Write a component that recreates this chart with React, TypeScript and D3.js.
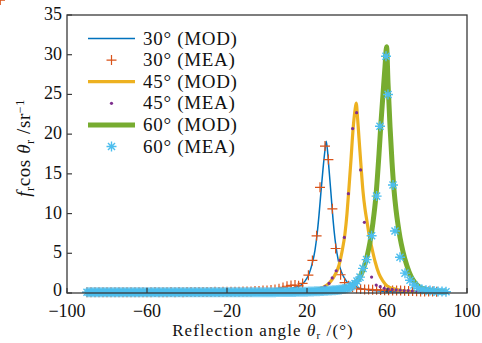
import { useEffect, useRef } from "react";
import * as d3 from "d3";

// model curves (MOD)
const mod30Angles = [-90, -60, -30, -10, 0, 5, 10, 14, 17, 19, 21, 22.5, 24, 25, 26, 27, 28, 29, 29.6, 30.3, 31, 32, 33, 34, 35, 36.5, 38, 40, 43, 47, 52, 60, 70, 80, 90];
const mod30Values = [0.02, 0.04, 0.08, 0.15, 0.22, 0.3, 0.45, 0.7, 1.0, 1.5, 2.4, 3.6, 5.4, 7.3, 9.8, 12.8, 15.6, 18, 19.1, 17.8, 15.6, 12.5, 9.3, 6.8, 5.0, 3.2, 2.2, 1.4, 0.9, 0.55, 0.33, 0.18, 0.1, 0.06, 0.04];

const mod45Angles = [-90, -60, -30, 0, 10, 20, 25, 28, 30, 32, 34, 36, 37.5, 39, 40, 41, 42, 43, 44, 44.6, 45.3, 46, 47, 48, 49, 50, 51, 52.5, 54, 56, 58, 60, 63, 66, 70, 80, 90];
const mod45Values = [0.02, 0.03, 0.05, 0.1, 0.16, 0.3, 0.5, 0.7, 1.0, 1.5, 2.3, 3.5, 5.2, 7.5, 10, 13.3, 16.8, 20.5, 23, 23.9, 22, 19.5, 16, 12.8, 10.6, 9, 7.4, 5.6, 4.0, 2.4, 1.5, 0.9, 0.55, 0.38, 0.25, 0.12, 0.07];

const mod60Angles = [-90, -60, -30, 0, 20, 30, 36, 40, 44, 46, 48, 50, 51.5, 53, 54.5, 56, 57, 58, 59, 59.8, 60.5, 61.5, 62.5, 63.5, 64.5, 65.5, 66.5, 68, 70, 72, 74, 76, 80, 85, 90];
const mod60Values = [0.02, 0.03, 0.05, 0.1, 0.2, 0.3, 0.45, 0.6, 1.2, 1.8, 2.9, 4.6, 6.4, 8.9, 12.3, 17.5, 21.5, 25, 28.5, 31, 26.5, 21, 16.5, 13, 10.5, 8.6, 7.0, 5.2, 3.4, 2.1, 1.3, 0.8, 0.4, 0.2, 0.12];

// measured points (MEA)
const mea30Angles = [
  -90, -88, -86, -84, -82, -80, -78, -76, -74, -72, -70, -68, -66, -64, -62, -60, -58, -56, -54, -52,
  -50, -48, -46, -44, -42, -40, -38, -36, -34, -32, -30, -28, -26, -24, -22, -20, -18, -16, -14, -12,
  -10, -8, -6, -4, -2, 0, 2, 4, 6, 8, 10, 12, 14, 15.8, 17.8, 20.7, 22.7, 24.8, 26.5, 29, 30.7, 32.7,
  34.3, 36.8, 38.8, 40.8, 42.8, 44.8, 46.8, 48.8, 50.8, 52.8, 54.8, 56.8, 58.8, 60.8, 62.8, 64.8, 66.8,
  68.8, 70.8, 72.8, 74.8, 76.8, 78.8, 80.8, 82.8, 84.8, 86.8, 88.8,
];
const mea30Values = [
  0.08, 0.1, 0.09, 0.1, 0.08, 0.1, 0.11, 0.09, 0.1, 0.1, 0.08, 0.1, 0.11, 0.1, 0.09, 0.1, 0.1, 0.12, 0.1, 0.11,
  0.1, 0.12, 0.11, 0.12, 0.1, 0.12, 0.13, 0.12, 0.12, 0.14, 0.13, 0.14, 0.15, 0.14, 0.15, 0.16, 0.15, 0.16, 0.17, 0.18,
  0.18, 0.2, 0.24, 0.26, 0.3, 0.32, 0.38, 0.45, 0.55, 0.7, 0.85, 0.95, 1.0, 0.9, 1.2, 2.25, 4.1, 7.2, 13.3, 18.5, 16.8, 10.6,
  5.6, 2.3, 1.3, 0.9, 0.75, 0.6, 0.5, 0.45, 0.45, 0.4, 0.4, 0.38, 0.35, 0.35, 0.33,
  0.3, 0.3, 0.28, 0.25, 0.25, 0.22, 0.2, 0.2, 0.18, 0.18, 0.15,
];

const mea45Angles = [
  -90, -88, -86, -84, -82, -80, -78, -76, -74, -72, -70, -68, -66, -64, -62, -60, -58, -56, -54, -52,
  -50, -48, -46, -44, -42, -40, -38, -36, -34, -32, -30, -28, -26, -24, -22, -20, -18, -16, -14, -12,
  -10, -8, -6, -4, -2, 0, 2, 4, 6, 8, 10, 12, 14, 16, 18, 20, 22, 24, 26, 27.2, 29, 31, 32.6, 34.6,
  36.5, 38.7, 40.7, 42.8, 44.8, 46.8, 48.7, 50.7, 52.3, 54.6, 56.6, 58.6, 60.6, 62.6, 64.6, 66.6, 68.6,
  70.6, 72.6, 74.6, 76.6, 78.6, 80.6, 82.6, 84.6, 86.6, 88.6,
];
const mea45Values = [
  0.04, 0.05, 0.04, 0.05, 0.05, 0.04, 0.05, 0.05, 0.05, 0.04, 0.05, 0.05, 0.05, 0.06, 0.05, 0.05, 0.05, 0.06, 0.05, 0.05,
  0.06, 0.05, 0.06, 0.06, 0.05, 0.06, 0.06, 0.06, 0.07, 0.06, 0.07, 0.07, 0.07, 0.08, 0.08, 0.08, 0.09, 0.09, 0.1, 0.1,
  0.1, 0.11, 0.12, 0.12, 0.13, 0.14, 0.15, 0.16, 0.17, 0.18, 0.2, 0.22, 0.24, 0.26, 0.3, 0.32, 0.38, 0.42, 0.5, 0.6, 0.8, 1.2, 1.9, 2.8,
  4.1, 7.0, 12.5, 20.7, 22.7, 15.5, 8.9, 5.0, 2.0, 1.0, 0.8, 0.6, 0.5, 0.45, 0.4, 0.35, 0.3,
  0.3, 0.25, 0.22, 0.2, 0.18, 0.15, 0.12, 0.1, 0.1, 0.08,
];

const mea60Angles = [
  -90, -89, -88, -87, -86, -85, -84, -83, -82, -81, -80, -79, -78, -77, -76, -75, -74, -73, -72, -71,
  -70, -69, -68, -67, -66, -65, -64, -63, -62, -61, -60, -59, -58, -57, -56, -55, -54, -53, -52, -51,
  -50, -49, -48, -47, -46, -45, -44, -43, -42, -41, -40, -39, -38, -37, -36, -35, -34, -33, -32, -31,
  -30, -29, -28, -27, -26, -25, -24, -23, -22, -21, -20, -19, -18, -17, -16, -15, -14, -13, -12, -11,
  -10, -9, -8, -7, -6, -5, -4, -3, -2, -1, 0, 1, 2, 3, 4, 5, 6, 7, 8, 9,
  10, 11, 12, 13, 14, 15, 16, 17, 18, 19, 20, 21, 22, 23, 24, 25, 26, 27, 28, 29,
  30, 31, 32, 33, 34, 35, 36, 37, 38, 39,
  40, 41, 42, 43, 44, 45, 46.5, 48, 49.8, 52.3, 54.8, 56.5, 59.5, 60.5, 63, 64, 66.5, 69, 71.5, 73.5,
  75.5, 77.5, 79.5, 81.5, 83.5, 85.5, 87.5, 89.5,
];
const mea60Values = [
  0.1, 0.09, 0.1, 0.1, 0.11, 0.1, 0.09, 0.1, 0.1, 0.1, 0.11, 0.1, 0.1, 0.09, 0.1, 0.1, 0.1, 0.11, 0.1, 0.1,
  0.1, 0.1, 0.09, 0.1, 0.1, 0.11, 0.1, 0.1, 0.1, 0.1, 0.1, 0.11, 0.1, 0.1, 0.1, 0.1, 0.1, 0.11, 0.1, 0.1,
  0.1, 0.09, 0.1, 0.1, 0.1, 0.1, 0.11, 0.1, 0.1, 0.1, 0.1, 0.1, 0.1, 0.11, 0.1, 0.1, 0.1, 0.1, 0.09, 0.1,
  0.1, 0.1, 0.11, 0.1, 0.1, 0.1, 0.1, 0.1, 0.1, 0.11, 0.1, 0.1, 0.1, 0.1, 0.1, 0.1, 0.11, 0.1, 0.1, 0.1,
  0.1, 0.1, 0.1, 0.1, 0.11, 0.1, 0.1, 0.1, 0.1, 0.1, 0.1, 0.1, 0.11, 0.11, 0.11, 0.12, 0.12, 0.12, 0.12, 0.13,
  0.13, 0.13, 0.14, 0.14, 0.14, 0.15, 0.15, 0.16, 0.16, 0.17, 0.17, 0.18, 0.19, 0.2, 0.21, 0.22, 0.23, 0.24, 0.25, 0.27,
  0.28, 0.3, 0.32, 0.34, 0.36, 0.39, 0.42, 0.45, 0.49, 0.54,
  0.6, 0.7, 0.8, 1.0, 1.2, 1.5, 2.0, 3.1, 4.2, 7.2, 12.2, 21, 29.8, 25, 13.6, 7.8, 4.5, 2.5, 1.6, 1.0,
  0.6, 0.45, 0.35, 0.3, 0.25, 0.2, 0.2, 0.15,
];

const xTicks = [-100, -60, -20, 20, 60, 100];
const yTicks = [0, 5, 10, 15, 20, 25, 30, 35];
const legendLabels = ["30° (MOD)", "30° (MEA)", "45° (MOD)", "45° (MEA)", "60° (MOD)", "60° (MEA)"];

const FONT = "'Liberation Serif', 'Times New Roman', serif";

export default function App() {
  const svgRef = useRef<SVGSVGElement>(null);

  useEffect(() => {
    const svg = d3.select(svgRef.current);
    svg.selectAll("*").remove();

    const left = 67, right = 467, top = 15, bottom = 293;
    const x = d3.scaleLinear().domain([-100, 100]).range([left, right]);
    const y = d3.scaleLinear().domain([0, 35]).range([bottom, top]);

    const line = d3.line<[number, number]>()
      .x(d => x(d[0]))
      .y(d => y(d[1]))
      .curve(d3.curveMonotoneX);

    const zip = (a: number[], b: number[]) => a.map((v, i) => [v, b[i]] as [number, number]);

    const plot = svg.append("g");

    const drawLine = (a: number[], v: number[], color: string, w: number) => {
      plot.append("path")
        .datum(zip(a, v))
        .attr("d", line)
        .attr("fill", "none")
        .attr("stroke", color)
        .attr("stroke-width", w)
        .attr("stroke-linejoin", "round");
    };

    const plusPath = (s: number) => `M${-s},0H${s}M0,${-s}V${s}`;
    const starPath = (s: number) => {
      const d = s * 0.707;
      return `M${-s},0H${s}M0,${-s}V${s}M${-d},${-d}L${d},${d}M${-d},${d}L${d},${-d}`;
    };

    const drawMarks = (a: number[], v: number[], kind: string, color: string) => {
      const g = plot.append("g");
      zip(a, v).forEach(([ang, val]) => {
        const cx = x(ang), cy = y(val);
        if (kind === "dot") {
          g.append("circle").attr("cx", cx).attr("cy", cy).attr("r", 1.6).attr("fill", color);
        } else {
          g.append("path")
            .attr("transform", `translate(${cx},${cy})`)
            .attr("d", kind === "plus" ? plusPath(5) : starPath(5))
            .attr("stroke", color)
            .attr("stroke-width", kind === "plus" ? 1.2 : 1.4)
            .attr("fill", "none");
        }
      });
    };

    drawLine(mod30Angles, mod30Values, "#0072BD", 1.5);
    drawMarks(mea30Angles, mea30Values, "plus", "#D95319");
    drawLine(mod45Angles, mod45Values, "#EDB120", 3.2);
    drawMarks(mea45Angles, mea45Values, "dot", "#7E2F8E");
    drawLine(mod60Angles, mod60Values, "#77AC30", 5);
    drawMarks(mea60Angles, mea60Values, "star", "#4DBEEE");

    // frame
    svg.append("rect")
      .attr("x", left).attr("y", top)
      .attr("width", right - left).attr("height", bottom - top)
      .attr("fill", "none").attr("stroke", "#3a3a3a").attr("stroke-width", 1.3);

    // y ticks
    yTicks.forEach(t => {
      svg.append("line")
        .attr("x1", left).attr("x2", left + 5)
        .attr("y1", y(t)).attr("y2", y(t))
        .attr("stroke", "#3a3a3a").attr("stroke-width", 1.2);
      svg.append("text")
        .attr("x", left - 5).attr("y", y(t) + (t === 0 ? 3 : 5))
        .attr("text-anchor", "end")
        .style("font-family", FONT).style("font-size", "18px")
        .attr("fill", "#111")
        .text(t);
    });

    // x ticks
    xTicks.forEach(t => {
      svg.append("line")
        .attr("x1", x(t)).attr("x2", x(t))
        .attr("y1", bottom).attr("y2", bottom - 5)
        .attr("stroke", "#3a3a3a").attr("stroke-width", 1.2);
      svg.append("text")
        .attr("x", x(t)).attr("y", 317)
        .attr("text-anchor", "middle")
        .style("font-family", FONT).style("font-size", "18px")
        .attr("fill", "#111")
        .text(t < 0 ? `\u2212${-t}` : `${t}`);
    });

    // axis labels
    const xl = svg.append("text")
      .attr("x", (left + right) / 2 - 4).attr("y", 336)
      .attr("text-anchor", "middle")
      .style("font-family", FONT).style("font-size", "17px")
      .style("letter-spacing", "1.1px")
      .attr("fill", "#111");
    xl.append("tspan").text("Reflection angle ");
    xl.append("tspan").style("font-style", "italic").text("θ");
    xl.append("tspan").attr("dy", 3).style("font-size", "11px").text("r");
    xl.append("tspan").attr("dy", -3).text(" /(°)");

    const yl = svg.append("text")
      .attr("transform", `translate(30,148) rotate(-90)`)
      .attr("text-anchor", "middle")
      .style("font-family", FONT).style("font-size", "19px")
      .style("letter-spacing", "0.6px")
      .attr("fill", "#111");
    yl.append("tspan").style("font-style", "italic").text("f");
    yl.append("tspan").attr("dy", 4).style("font-size", "12px").text("r");
    yl.append("tspan").attr("dy", -4).text("cos ");
    yl.append("tspan").style("font-style", "italic").text("θ");
    yl.append("tspan").attr("dy", 4).style("font-size", "12px").text("r");
    yl.append("tspan").attr("dy", -4).text(" /sr");
    yl.append("tspan").attr("dy", -6).style("font-size", "12px").text("−1");

    // legend
    const legend = svg.append("g");
    const kinds = [
      { kind: "line", color: "#0072BD", w: 1.5 },
      { kind: "plus", color: "#D95319", w: 0 },
      { kind: "line", color: "#EDB120", w: 3.2 },
      { kind: "dot", color: "#7E2F8E", w: 0 },
      { kind: "line", color: "#77AC30", w: 5 },
      { kind: "star", color: "#4DBEEE", w: 0 },
    ];
    legendLabels.forEach((lab, i) => {
      const ly = 38.5 + i * 21.6;
      const k = kinds[i];
      if (k.kind === "line") {
        legend.append("line")
          .attr("x1", 88).attr("x2", 135).attr("y1", ly).attr("y2", ly)
          .attr("stroke", k.color).attr("stroke-width", k.w);
      } else if (k.kind === "dot") {
        legend.append("circle").attr("cx", 111.5).attr("cy", ly).attr("r", 1.6).attr("fill", k.color);
      } else {
        legend.append("path")
          .attr("transform", `translate(111.5,${ly})`)
          .attr("d", k.kind === "plus" ? plusPath(5) : starPath(5))
          .attr("stroke", k.color).attr("stroke-width", k.kind === "plus" ? 1.2 : 1.4).attr("fill", "none");
      }
      legend.append("text")
        .attr("x", 143).attr("y", ly + 6)
        .style("font-family", FONT).style("font-size", "19px")
        .style("letter-spacing", "0.7px")
        .attr("fill", "#111")
        .text(lab);
    });
  }, []);

  return (
    <svg
      ref={svgRef}
      width={482}
      height={343}
      style={{ position: "absolute", left: 0, top: 0, background: "#fff" }}
    />
  );
}
